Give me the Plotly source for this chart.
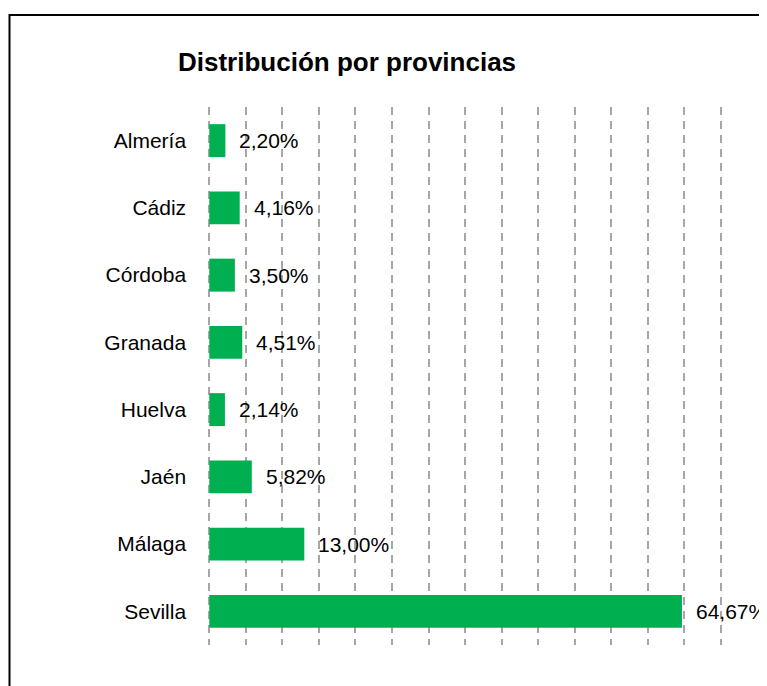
import plotly.graph_objects as go

provincias = ["Almería", "Cádiz", "Córdoba", "Granada", "Huelva", "Jaén", "Málaga", "Sevilla"]
porcentajes = [2.20, 4.16, 3.50, 4.51, 2.14, 5.82, 13.00, 64.67]
titulo = "Distribución por provincias"

# page is rendered with an 8px body margin, so the figure is 8px smaller
W, H = 759, 678
FONT = "Liberation Sans Narrow, Arial Narrow, Liberation Sans, Arial, sans-serif"
GREEN = "#00B050"

etiquetas = [f"{v:.2f}".replace(".", ",") + "%" for v in porcentajes]

fig = go.Figure()
fig.add_trace(go.Bar(
    x=porcentajes, y=provincias, orientation="h",
    marker=dict(color=GREEN, line=dict(width=0)),
    hoverinfo="skip",
))

for v, p, t in zip(porcentajes, provincias, etiquetas):
    fig.add_annotation(x=v, y=p, xref="x", yref="y", text=t, showarrow=False,
                       xanchor="left", yanchor="middle", xshift=12,
                       font=dict(family=FONT, size=21, color="#000000"))

fig.add_annotation(x=338.5 / W, y=1 - 54 / H, xref="paper", yref="paper",
                   text="<b>" + titulo + "</b>", showarrow=False,
                   xanchor="center", yanchor="middle",
                   font=dict(family=FONT, size=26, color="#000000"))

fig.add_shape(type="rect", xref="paper", yref="paper",
              x0=1.5 / W, x1=1.05, y0=-0.05, y1=1 - 7 / H,
              line=dict(color="#000000", width=2), fillcolor="rgba(0,0,0,0)")

fig.update_layout(
    width=W, height=H,
    margin=dict(l=0, r=0, t=0, b=0),
    paper_bgcolor="#FFFFFF", plot_bgcolor="#FFFFFF",
    bargap=0.51,
    showlegend=False,
    xaxis=dict(domain=[199.1 / W, 715.1 / W], range=[-0.3, 70.3], dtick=5, tick0=0,
               showgrid=True, gridcolor="#A6A6A6", gridwidth=2, griddash="8px,6px",
               zeroline=False, showline=False, showticklabels=False, ticks="",
               fixedrange=True),
    yaxis=dict(domain=[1 - 637 / H, 1 - 99 / H], autorange="reversed",
               showgrid=False, zeroline=False, showline=False, ticks="",
               ticklabelstandoff=20,
               tickfont=dict(family=FONT, size=21, color="#000000"),
               fixedrange=True),
)

fig.write_html("out.html")
